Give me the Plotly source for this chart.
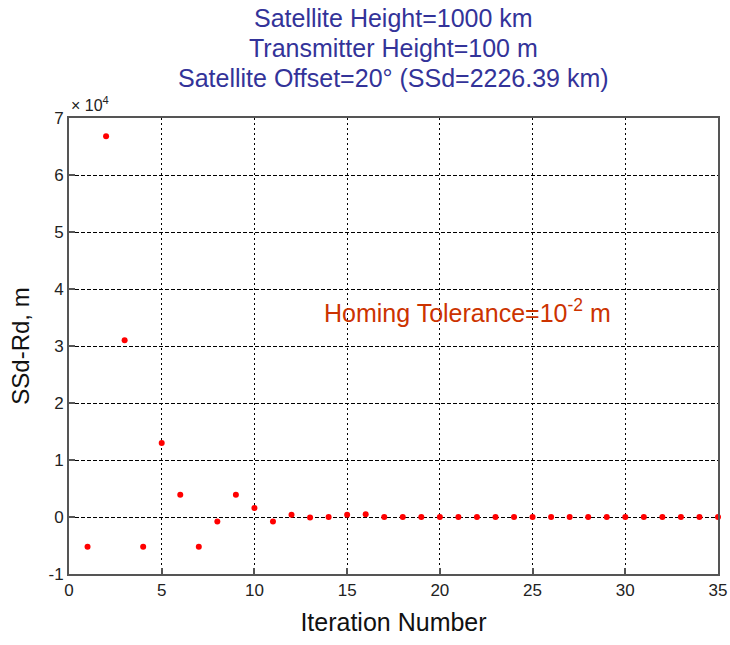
import plotly.graph_objects as go

iterations = list(range(1, 36))
ssd_rd_m = [-5200, 66800, 31000, -5200, 13000, 3900, -5200, -800, 3900, 1600,
            -800, 400, -100, 0, 400, 500] + [0] * 19
x_ticks = [0, 5, 10, 15, 20, 25, 30, 35]
y_tickvals = [-10000, 0, 10000, 20000, 30000, 40000, 50000, 60000, 70000]
y_ticktext = ["-1", "0", "1", "2", "3", "4", "5", "6", "7"]

title_lines = ["Satellite Height=1000 km", "Transmitter Height=100 m",
               "Satellite Offset=20° (SSd=2226.39 km)"]

FONT = "Liberation Sans, Arial, sans-serif"
TOP = 118

fig = go.Figure()
fig.add_trace(go.Scatter(
    x=iterations, y=ssd_rd_m, mode="markers",
    marker=dict(color="#ff0000", size=6),
    cliponaxis=False, showlegend=False))

fig.update_layout(
    width=730, height=645,
    margin=dict(l=69, r=12, t=TOP, b=71, autoexpand=False),
    plot_bgcolor="white", paper_bgcolor="white",
    font=dict(family=FONT, color="#222222", size=17),
)
fig.update_xaxes(
    range=[0, 35], tickvals=x_ticks, showgrid=True, gridcolor="#000000",
    gridwidth=1, griddash="2px,3px", zeroline=False, automargin=False,
    showline=True, linecolor="#555555", linewidth=2, mirror=True,
    ticks="inside", ticklen=6, tickcolor="#555555", tickwidth=2,
    tickfont=dict(size=17, color="#222222"),
    title=dict(text="Iteration Number", font=dict(size=25, color="#111111"), standoff=14),
)
fig.update_yaxes(
    range=[-10000, 70000], tickvals=y_tickvals, ticktext=y_ticktext,
    showgrid=True, gridcolor="#000000", gridwidth=1, griddash="4px,2px",
    zeroline=False, automargin=False,
    showline=True, linecolor="#555555", linewidth=2, mirror=True,
    ticks="inside", ticklen=6, tickcolor="#555555", tickwidth=2,
    tickfont=dict(size=17, color="#222222"),
    title=dict(text="SSd-Rd, m", font=dict(size=24, color="#111111"), standoff=12),
)
for line, py in zip(title_lines, [18, 48, 78]):
    fig.add_annotation(xref="paper", yref="paper", x=0.5, y=1.0,
                       xanchor="center", yanchor="middle", yshift=TOP - py,
                       showarrow=False, text=line,
                       font=dict(family=FONT, size=25, color="#333399"))
fig.add_annotation(xref="paper", yref="paper", x=0.0, y=1.0, xanchor="left",
                   yanchor="bottom", yshift=2, showarrow=False,
                   text="× 10<sup>4</sup>", font=dict(size=16, color="#222222"))
fig.add_annotation(xref="x", yref="y", x=21.5, y=36100, xanchor="center",
                   yanchor="middle", showarrow=False,
                   text="Homing Tolerance=10<sup>-2</sup> m",
                   font=dict(size=25, color="#cc3300"))

fig.write_html("out.html")
